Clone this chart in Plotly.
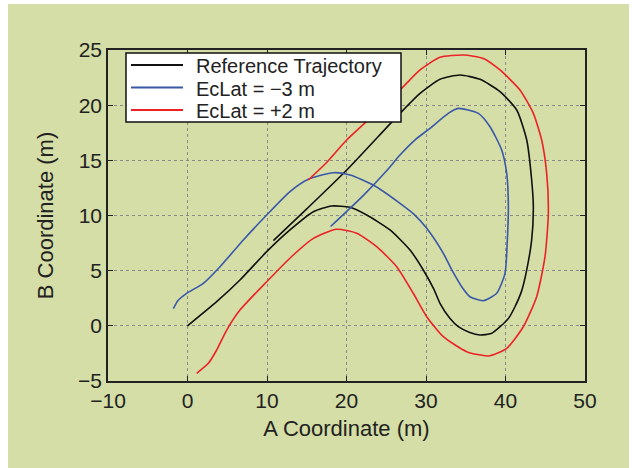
import plotly.graph_objects as go

# Reference trajectory
ref_x = [0.0, 3.67, 6.6, 9.96, 12.89, 15.83, 18.13, 20.44, 22.54, 25.47, 27.99, 29.66, 31.0, 31.76,
         33.0, 34.06, 35.5, 36.79, 38.2, 39.31, 40.4, 41.19, 42.0, 42.58, 43.29, 43.5, 43.29, 42.67,
         41.41, 39.31, 36.79, 34.28, 31.76, 29.25, 26.73, 20.0, 15.0, 10.8]
ref_y = [0.0, 2.19, 4.15, 6.72, 8.69, 10.34, 10.86, 10.74, 10.04, 8.69, 6.87, 5.06, 3.3, 2.04,
         0.68, -0.08, -0.6, -0.83, -0.7, -0.08, 0.7, 1.73, 3.1, 4.76, 7.78, 10.8, 13.22, 16.84,
         19.56, 21.22, 22.34, 22.73, 22.34, 21.07, 19.26, 14.1, 10.6, 7.72]

# EcLat = -3 m
blue_x = [-1.78, -1.2, -0.10, 1.99, 4.09, 7.02, 9.96, 12.89, 15.2, 18.34, 20.44, 23.37, 26.73,
          28.5, 30.09, 32.18, 33.3, 34.49, 35.53, 37.2, 38.89, 39.94, 40.23, 40.36, 40.15, 39.52,
          38.05, 36.58, 34.06, 32.8, 30.5, 28.7, 26.73, 25.1, 22.1, 18.0]
blue_y = [1.55, 2.3, 2.95, 3.85, 5.36, 7.78, 10.04, 12.16, 13.28, 13.88, 13.67, 12.76, 11.1,
          10.1, 8.84, 6.57, 5.0, 3.55, 2.64, 2.28, 2.95, 4.76, 7.78, 10.8, 13.82, 15.94,
          18.05, 19.26, 19.71, 19.26, 17.9, 16.9, 15.48, 14.1, 11.8, 9.0]

# EcLat = +2 m
red_x = [1.16, 2.62, 3.67, 4.93, 6.6, 9.96, 13.31, 15.83, 18.76, 21.28, 23.79, 26.31, 28.4,
         30.09, 32.18, 35.12, 37.84, 40.15, 42.24, 43.92, 44.97, 45.39, 45.18, 44.55, 43.5,
         41.82, 39.31, 37.2, 34.69, 31.76, 29.25, 27.15, 24.0, 20.02, 17.5, 15.2]
red_y = [-4.3, -3.4, -2.19, -0.38, 1.43, 4.0, 6.42, 7.93, 8.75, 8.39, 7.17, 5.36, 2.95,
         0.83, -0.98, -2.34, -2.73, -2.04, -0.08, 2.64, 6.27, 10.2, 13.82, 16.84, 19.26,
         21.37, 23.19, 24.24, 24.55, 24.34, 23.19, 21.68, 19.5, 16.84, 14.8, 13.22]

series_names = ["Reference Trajectory", "EcLat = \u22123 m", "EcLat = +2 m"]
series_colors = ["#111111", "#3a58a8", "#ec2227"]

x_ticks = [-10, 0, 10, 20, 30, 40, 50]
x_ticktext = ["\u221210", "0", "10", "20", "30", "40", "50"]
y_ticks = [-5, 0, 5, 10, 15, 20, 25]
y_ticktext = ["\u22125", "0", "5", "10", "15", "20", "25"]

fig = go.Figure()
for xs, ys, name, col in zip([ref_x, blue_x, red_x], [ref_y, blue_y, red_y], series_names, series_colors):
    fig.add_trace(go.Scatter(x=xs, y=ys, mode="lines", name=name, showlegend=False,
                             line=dict(color=col, width=1.6, shape="spline", smoothing=0.6)))

W, H = 632, 468
L, R, T, B = 108, 47, 50, 87
pw, ph = W - L - R, H - T - B

def px_to_paper_x(p):
    return (p - L) / pw

def px_to_paper_y(p):
    return (H - B - p) / ph

# green backdrop panel
fig.add_shape(type="rect", xref="paper", yref="paper", layer="below",
              x0=px_to_paper_x(8), x1=px_to_paper_x(629),
              y0=px_to_paper_y(468), y1=px_to_paper_y(4),
              fillcolor="#d4dea6", line=dict(width=0))

# legend box (drawn as shapes + text so its proportions match)
fig.add_shape(type="rect", xref="paper", yref="paper", layer="above",
              x0=px_to_paper_x(126), x1=px_to_paper_x(401),
              y0=px_to_paper_y(122), y1=px_to_paper_y(53),
              fillcolor="white", line=dict(color="#111111", width=1.5))
for i, (name, col) in enumerate(zip(series_names, series_colors)):
    yrow = 65 + 22.5 * i
    fig.add_shape(type="line", xref="paper", yref="paper", layer="above",
                  x0=px_to_paper_x(131), x1=px_to_paper_x(183),
                  y0=px_to_paper_y(yrow), y1=px_to_paper_y(yrow),
                  line=dict(color=col, width=1.8))
    fig.add_annotation(xref="paper", yref="paper", x=px_to_paper_x(195), y=px_to_paper_y(yrow + 1),
                       xanchor="left", yanchor="middle", showarrow=False, text=name,
                       font=dict(size=20, color="#222222"), borderpad=0)

axis_common = dict(showline=True, linecolor="#222222", linewidth=1.5, mirror="ticks",
                   ticks="inside", ticklen=5, tickcolor="#222222",
                   showgrid=True, gridcolor="#8a8a8a", gridwidth=1, griddash="dot",
                   zeroline=False, tickfont=dict(size=21, color="#222222"))

fig.update_xaxes(range=[-10, 50], tickvals=x_ticks, ticktext=x_ticktext,
                 title=dict(text="A Coordinate (m)", font=dict(size=22, color="#222222"), standoff=10),
                 **axis_common)
fig.update_yaxes(range=[-5, 25], tickvals=y_ticks, ticktext=y_ticktext,
                 title=dict(text="B Coordinate (m)", font=dict(size=22, color="#222222"), standoff=18),
                 **axis_common)

fig.update_layout(
    width=W, height=H,
    margin=dict(l=L, r=R, t=T, b=B, autoexpand=False),
    paper_bgcolor="white", plot_bgcolor="white",
    font=dict(family="Liberation Sans, Arial, sans-serif", color="#222222"),
    showlegend=False,
)

fig.write_html("out.html")
